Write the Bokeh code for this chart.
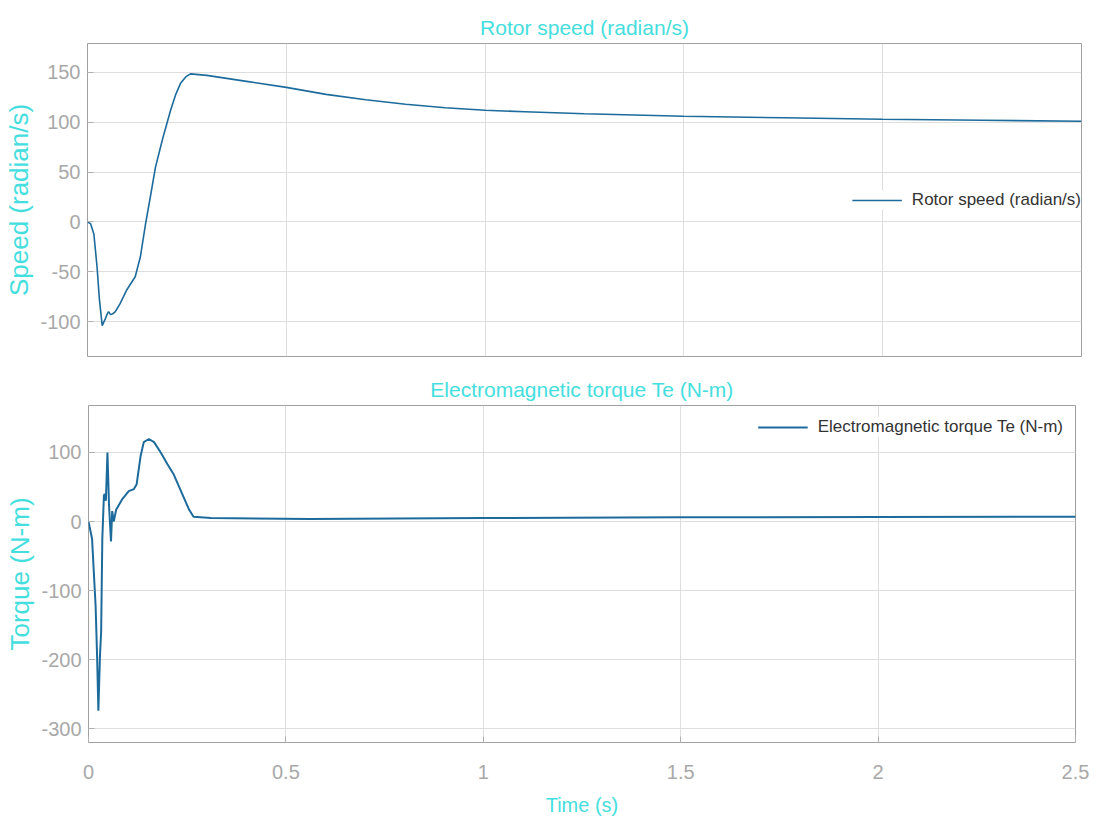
from bokeh.plotting import figure
from bokeh.layouts import column, row
from bokeh.models import FixedTicker, Range1d, Legend, LegendItem
from bokeh.embed import file_html
from bokeh.resources import INLINE

# ---------------- data ----------------
speed_t = [0, 0.008, 0.016, 0.024, 0.030, 0.037, 0.045, 0.050, 0.053, 0.058, 0.064,
           0.070, 0.082, 0.099, 0.12, 0.133, 0.146, 0.158, 0.171, 0.19, 0.209, 0.222,
           0.234, 0.247, 0.259, 0.3, 0.4, 0.5, 0.6, 0.7, 0.8, 0.9, 1.0, 1.1, 1.25,
           1.5, 1.75, 2.0, 2.25, 2.5]
speed = [0, -2, -12, -45, -78, -104, -97, -92, -90, -93, -92, -90, -82, -68, -55, -35,
         -2, 25, 55, 85, 112, 128, 139, 145.5, 148.5, 147, 141, 135, 128, 122.5, 118,
         114.5, 112, 110.5, 108.5, 106, 104.5, 103, 102, 101]

torque_t = [0, 0.009, 0.018, 0.022, 0.025, 0.029, 0.032, 0.035, 0.039, 0.041, 0.044,
            0.048, 0.052, 0.057, 0.060, 0.064, 0.070, 0.085, 0.102, 0.115, 0.122,
            0.132, 0.140, 0.153, 0.166, 0.183, 0.2, 0.216, 0.229, 0.242, 0.255,
            0.266, 0.31, 0.56, 1.0, 1.5, 2.0, 2.5]
torque = [0, -25, -122, -200, -274, -195, -160, -25, 37, 40, 30, 100, 23, -29, 15, 0,
          17, 32, 44, 47, 54, 95, 115, 119.5, 115, 100, 83, 68, 51, 34, 17, 7, 5, 3.5,
          5, 6, 6.5, 7]

x_ticks = [0, 0.5, 1, 1.5, 2, 2.5]
x_tick_labels = ["0", "0.5", "1", "1.5", "2", "2.5"]
speed_ticks = [-100, -50, 0, 50, 100, 150]
speed_tick_labels = ["-100", "-50", "0", "50", "100", "150"]
torque_ticks = [-300, -200, -100, 0, 100]
torque_tick_labels = ["-300", "-200", "-100", "0", "100"]

# ---------------- style ----------------
FONT = "Liberation Sans"
CYAN = "#45dede"
TICK_GRAY = "#a8a8a8"
GRID = "#dedede"
LINE = "#1d6b9c"


def style(p, yticks, ylabels):
    p.outline_line_color = "#a0a0a0"
    p.outline_line_width = 1
    p.title.text_color = CYAN
    p.title.text_font = FONT
    p.title.text_font_size = "21px"
    p.title.text_font_style = "normal"
    p.title.align = "center"
    p.xgrid.ticker = FixedTicker(ticks=x_ticks)
    p.ygrid.ticker = FixedTicker(ticks=yticks)
    p.xgrid.grid_line_color = GRID
    p.ygrid.grid_line_color = GRID
    for ax in p.axis:
        ax.axis_line_color = None
        ax.major_tick_line_color = "#b0b0b0"
        ax.major_tick_in = 6
        ax.major_tick_out = 0
        ax.minor_tick_line_color = None
        ax.major_label_text_color = TICK_GRAY
        ax.major_label_text_font = FONT
        ax.major_label_text_font_size = "20px"
        ax.axis_label_text_color = CYAN
        ax.axis_label_text_font = FONT
        ax.axis_label_text_font_style = "normal"
    p.yaxis.ticker = FixedTicker(ticks=yticks)
    p.yaxis.major_label_overrides = {t: l for t, l in zip(yticks, ylabels)}
    p.yaxis.axis_label_text_font_size = "26px"
    p.yaxis.major_label_standoff = 7
    p.yaxis.axis_label_standoff = 3


def make_legend(label, r, loc, margin):
    return Legend(items=[LegendItem(label=label, renderers=[r])],
                  location=loc, margin=margin, glyph_width=50, label_standoff=10,
                  padding=6, label_text_font=FONT, label_text_font_size="17px",
                  label_text_color="#333333", border_line_color=None,
                  background_fill_color="white", background_fill_alpha=1)


# ---------------- top figure ----------------
p1 = figure(width=1102, height=370, output_backend="svg", toolbar_location=None,
            x_range=Range1d(0, 2.5), y_range=Range1d(-135, 179),
            title="Rotor speed (radian/s)",
            min_border_left=87, min_border_right=21, min_border_top=43,
            min_border_bottom=14)
r1 = p1.line(speed_t, speed, line_color=LINE, line_width=1.6)
style(p1, speed_ticks, speed_tick_labels)
p1.xaxis.visible = False
p1.yaxis.axis_label = "Speed (radian/s)"
p1.add_layout(make_legend("Rotor speed (radian/s)", r1, "right", 0), "center")

# ---------------- bottom figure ----------------
p2 = figure(width=1102, height=455, output_backend="svg", toolbar_location=None,
            x_range=Range1d(0, 2.5), y_range=Range1d(-320, 168),
            title="Electromagnetic torque Te (N-m)",
            min_border_left=88, min_border_right=27, min_border_top=33,
            min_border_bottom=83)
r2 = p2.line(torque_t, torque, line_color=LINE, line_width=2)
style(p2, torque_ticks, torque_tick_labels)
p2.xaxis.ticker = FixedTicker(ticks=x_ticks)
p2.xaxis.major_label_overrides = {t: l for t, l in zip(x_ticks, x_tick_labels)}
p2.xaxis.major_label_standoff = 22
p2.xaxis.axis_label = "Time (s)"
p2.xaxis.axis_label_text_font_size = "20px"
p2.xaxis.axis_label_standoff = 12
p2.yaxis.axis_label = "Torque (N-m)"
p2.add_layout(make_legend("Electromagnetic torque Te (N-m)", r2, "top_right", 12), "center")

layout = column(row(p1), row(p2), spacing=0)
open("out.html", "w").write(file_html(layout, INLINE))
